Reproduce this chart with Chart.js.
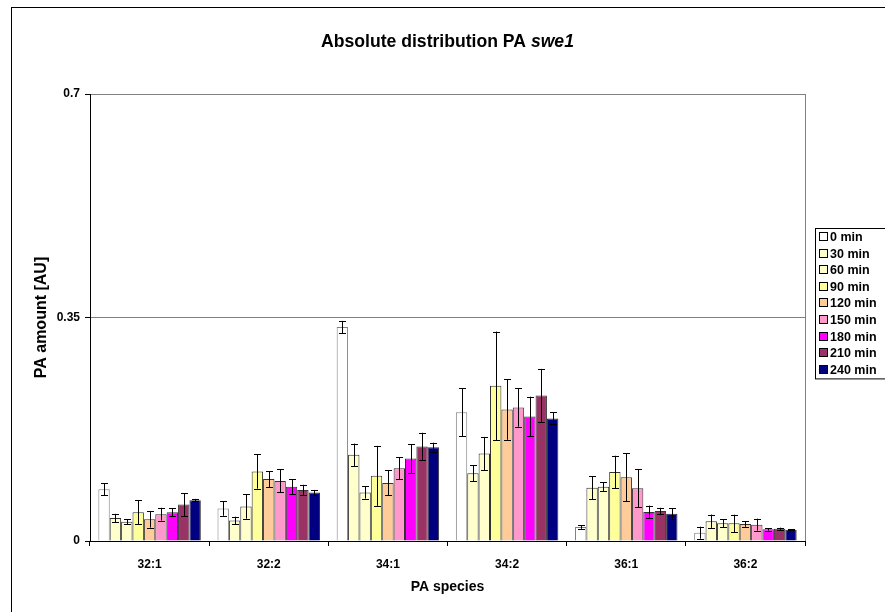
<!DOCTYPE html>
<html>
<head>
<meta charset="utf-8">
<title>Absolute distribution PA swe1</title>
<script src="https://cdn.jsdelivr.net/npm/chart.js@4.4.1/dist/chart.umd.min.js"></script>
<style>
    html, body { margin: 0; padding: 0; background: #fff; }
    #wrap { width: 885px; height: 612px; position: relative; }
</style>
</head>
<body>
<div id="wrap"><canvas id="paChart"></canvas></div>
<script>
// categories and tick labels
const species = ['32:1', '32:2', '34:1', '34:2', '36:1', '36:2'];
const timePoints = ['0 min', '30 min', '60 min', '90 min', '120 min', '150 min', '180 min', '210 min', '240 min'];
const yTicks = [0, 0.35, 0.7];

// series values and their error bars
const min0 = [0.081, 0.051, 0.335, 0.2015, 0.022, 0.013];
const min0Err = [0.0095, 0.0115, 0.0097, 0.0376, 0.003, 0.0094];
const min30 = [0.036, 0.032, 0.135, 0.106, 0.0835, 0.031];
const min30Err = [0.0065, 0.006, 0.0175, 0.0128, 0.018, 0.0104];
const min60 = [0.030, 0.054, 0.076, 0.137, 0.085, 0.0277];
const min60Err = [0.004, 0.019, 0.0095, 0.026, 0.0068, 0.006];
const min90 = [0.045, 0.109, 0.102, 0.243, 0.108, 0.0277];
const min90Err = [0.019, 0.027, 0.047, 0.085, 0.0255, 0.0136];
const min120 = [0.034, 0.097, 0.091, 0.206, 0.0997, 0.0266];
const min120Err = [0.013, 0.0125, 0.0195, 0.0475, 0.0376, 0.0044];
const min150 = [0.042, 0.094, 0.114, 0.209, 0.0825, 0.0256];
const min150Err = [0.010, 0.018, 0.0175, 0.030, 0.030, 0.0094];
const min180 = [0.045, 0.085, 0.129, 0.195, 0.0454, 0.0183];
const min180Err = [0.006, 0.012, 0.0225, 0.031, 0.010, 0.002];
const min210 = [0.057, 0.080, 0.148, 0.228, 0.047, 0.0193];
const min210Err = [0.018, 0.008, 0.0215, 0.0415, 0.005, 0.0016];
const min240 = [0.064, 0.076, 0.147, 0.192, 0.0428, 0.0177];
const min240Err = [0.002, 0.004, 0.007, 0.0094, 0.0084, 0.001];

const seriesValues = [min0, min30, min60, min90, min120, min150, min180, min210, min240];
const seriesErrors = [min0Err, min30Err, min60Err, min90Err, min120Err, min150Err, min180Err, min210Err, min240Err];
const seriesColors = ['#FFFFFF', '#FFFFCC', '#FFFFCC', '#FFFF99', '#FFCC99', '#FF99CC', '#FF00FF', '#993366', '#000080'];

const FONT = "'Liberation Sans', Arial, sans-serif";

// white background, outer frame, right edge of plot area
const framePlugin = {
    id: 'frame',
    beforeDraw(chart) {
        const c = chart.ctx;
        c.save();
        c.fillStyle = '#fff';
        c.fillRect(0, 0, chart.width, chart.height);
        c.restore();
    },
    afterDraw(chart) {
        const c = chart.ctx;
        const a = chart.chartArea;
        c.save();
        c.strokeStyle = '#000';
        c.lineWidth = 1;
        c.strokeRect(11.5, 7.5, chart.width + 20, chart.height + 20);
        c.strokeStyle = '#808080';
        c.beginPath();
        c.moveTo(Math.round(a.right) + 0.5, a.top);
        c.lineTo(Math.round(a.right) + 0.5, a.bottom);
        c.stroke();
        c.restore();
    }
};

// title with italic strain name
const titlePlugin = {
    id: 'mixedTitle',
    afterDraw(chart) {
        const c = chart.ctx;
        const a = chart.chartArea;
        const part1 = 'Absolute distribution PA ';
        const part2 = 'swe1';
        c.save();
        c.fillStyle = '#000';
        c.textBaseline = 'middle';
        c.font = 'bold 17.6px ' + FONT;
        const w1 = c.measureText(part1).width;
        c.font = 'italic bold 17.6px ' + FONT;
        const w2 = c.measureText(part2).width;
        let x = (a.left + a.right) / 2 - (w1 + w2) / 2;
        c.textAlign = 'left';
        c.font = 'bold 17.6px ' + FONT;
        c.fillText(part1, x, 42);
        c.font = 'italic bold 17.6px ' + FONT;
        c.fillText(part2, x + w1, 42);
        c.restore();
    }
};

// error bars drawn through the y scale
const errorBarPlugin = {
    id: 'errorBars',
    afterDatasetsDraw(chart) {
        const c = chart.ctx;
        const y = chart.scales.y;
        c.save();
        c.strokeStyle = '#000';
        c.lineWidth = 1;
        chart.data.datasets.forEach((ds, i) => {
            const meta = chart.getDatasetMeta(i);
            meta.data.forEach((bar, j) => {
                const v = ds.data[j];
                const e = ds.errors[j];
                const x = Math.round(bar.x) + 0.5;
                const top = y.getPixelForValue(v + e);
                const bot = y.getPixelForValue(Math.max(0, v - e));
                c.beginPath();
                c.moveTo(x, top);
                c.lineTo(x, bot);
                c.moveTo(x - 3.5, Math.round(top) + 0.5);
                c.lineTo(x + 3.5, Math.round(top) + 0.5);
                c.moveTo(x - 3.5, Math.round(bot) + 0.5);
                c.lineTo(x + 3.5, Math.round(bot) + 0.5);
                c.stroke();
            });
        });
        c.restore();
    }
};

// boxed legend on the right, like the original
const boxLegendPlugin = {
    id: 'boxLegend',
    afterDraw(chart) {
        const c = chart.ctx;
        const left = 815.5, top = 228.5, step = 16.6;
        const n = chart.data.datasets.length;
        c.save();
        c.strokeStyle = '#000';
        c.lineWidth = 1;
        c.strokeRect(left, top, 100, n * step + 1);
        c.font = 'bold 12.5px ' + FONT;
        c.textBaseline = 'middle';
        c.textAlign = 'left';
        chart.data.datasets.forEach((ds, i) => {
            const cy = 237 + i * step;
            c.fillStyle = ds.backgroundColor;
            c.fillRect(820, Math.round(cy - 4), 7, 7);
            c.strokeStyle = '#000';
            c.strokeRect(819.5, Math.round(cy - 4) - 0.5, 8, 8);
            c.fillStyle = '#000';
            c.fillText(ds.label, 830, cy + 0.5);
        });
        c.restore();
    }
};

let datasets = timePoints.map((t, i) => ({
    label: t,
    data: seriesValues[i],
    errors: seriesErrors[i],
    backgroundColor: seriesColors[i],
    borderColor: i === 0 ? '#808080' : '#333333',
    borderWidth: 1,
    borderSkipped: 'bottom',
    categoryPercentage: 0.86,
    barPercentage: 1.0
}));

let ctx = document.getElementById('paChart').getContext('2d');

let paChart = new Chart(ctx, {
    type: 'bar',
    data: {
        labels: species,
        datasets: datasets
    },
    options: {
        responsive: true,
        maintainAspectRatio: false,
        animation: false,
        layout: {
            padding: { left: 27, right: 80, top: 94, bottom: 8 }
        },
        plugins: {
            legend: { display: false },
            title: { display: false },
            tooltip: { enabled: false }
        },
        scales: {
            x: {
                afterFit(scale) { scale.height = 63; },
                grid: {
                    offset: true,
                    drawOnChartArea: false,
                    drawTicks: true,
                    tickLength: 5,
                    tickColor: '#000'
                },
                border: { color: '#000', width: 1 },
                ticks: {
                    color: '#000',
                    padding: 11,
                    font: { family: FONT, size: 12, weight: 'bold' },
                    maxRotation: 0
                },
                title: {
                    display: true,
                    text: 'PA species',
                    color: '#000',
                    font: { family: FONT, size: 14, weight: 'bold' },
                    padding: { top: 0, bottom: 8 }
                }
            },
            y: {
                min: 0,
                max: 0.7,
                afterFit(scale) { scale.width = 63; },
                afterBuildTicks(scale) {
                    scale.ticks = yTicks.map(v => ({ value: v }));
                },
                grid: {
                    color: '#808080',
                    drawTicks: true,
                    tickLength: 5,
                    tickColor: '#000'
                },
                border: { color: '#000', width: 1 },
                ticks: {
                    color: '#000',
                    padding: 5,
                    font: { family: FONT, size: 12, weight: 'bold' },
                    callback: v => String(+Number(v).toFixed(2))
                },
                title: {
                    display: true,
                    text: 'PA amount [AU]',
                    color: '#000',
                    font: { family: FONT, size: 16, weight: 'bold' },
                    padding: { top: 5, bottom: 4 }
                }
            }
        }
    },
    plugins: [framePlugin, errorBarPlugin, titlePlugin, boxLegendPlugin]
});
</script>
</body>
</html>
